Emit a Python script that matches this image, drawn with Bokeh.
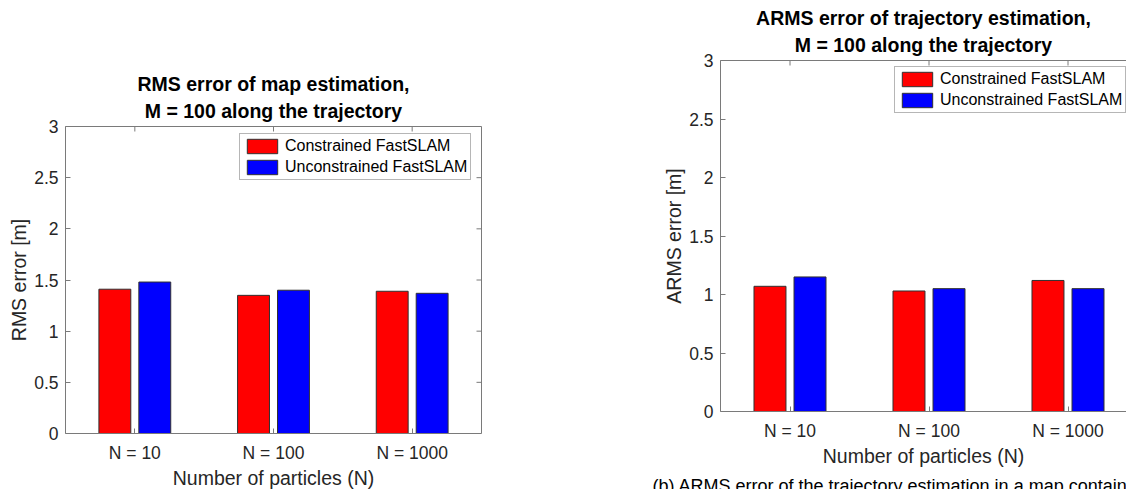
import math

from bokeh.plotting import figure
from bokeh.models import (Range1d, FixedTicker, LinearAxis, Legend, LegendItem,
                          Title, ColumnDataSource)
from bokeh.embed import file_html
from bokeh.resources import INLINE

# ---- data -------------------------------------------------------------
categories = ["N = 10", "N = 100", "N = 1000"]
series_names = ["Constrained FastSLAM", "Unconstrained FastSLAM"]

map_rms_constrained = [1.41, 1.35, 1.39]
map_rms_unconstrained = [1.48, 1.40, 1.37]

traj_arms_constrained = [1.07, 1.03, 1.12]
traj_arms_unconstrained = [1.15, 1.05, 1.05]

y_ticks = [0, 0.5, 1, 1.5, 2, 2.5, 3]
y_tick_labels = ["0", "0.5", "1", "1.5", "2", "2.5", "3"]

caption_text = "(b) ARMS error of the trajectory estimation in a map containing"

# ---- style ------------------------------------------------------------
FONT = "Liberation Sans"
AXIS_GREY = "#7a7a7a"
TEXT_GREY = "#262626"
RED = "#ff0000"
BLUE = "#0000ff"
BAR_W = 0.23
BAR_OFF = 0.144
TICK_SIZE = "17.5px"
LABEL_SIZE = "19.5px"


def style_axis(ax, ticks, labels):
    ax.ticker = FixedTicker(ticks=ticks)
    ax.major_label_overrides = {float(t): l for t, l in zip(ticks, labels)}
    ax.axis_line_color = AXIS_GREY
    ax.axis_line_width = 1
    ax.major_tick_line_color = AXIS_GREY
    ax.major_tick_in = 5
    ax.major_tick_out = 0
    ax.minor_tick_line_color = None
    ax.major_label_text_font = FONT
    ax.major_label_text_color = TEXT_GREY
    ax.major_label_text_font_size = TICK_SIZE
    ax.major_label_standoff = 7


def box_side():
    # plain box edge: axis line only, no ticks and no labels
    ax = LinearAxis(ticker=FixedTicker(ticks=[]))
    ax.axis_line_color = AXIS_GREY
    ax.major_tick_line_color = None
    ax.minor_tick_line_color = None
    ax.major_label_standoff = 0
    return ax


def make_panel(title_lines, ylabel, red_vals, blue_vals, frame_w, frame_h,
               borders, x_end, legend_xy, title_offset, with_right_side):
    left_b, right_b, top_b, bottom_b = borders
    p = figure(frame_width=frame_w, frame_height=frame_h,
               x_range=Range1d(0.5, x_end), y_range=Range1d(0, 3),
               min_border_left=left_b, min_border_right=right_b,
               min_border_top=top_b, min_border_bottom=bottom_b,
               title=None, output_backend="svg", toolbar_location=None)
    p.grid.visible = False
    p.outline_line_color = None
    p.background_fill_color = "white"
    p.border_fill_color = "white"

    pos = list(range(1, len(categories) + 1))
    src = ColumnDataSource(dict(
        x_red=[c - BAR_OFF for c in pos],
        x_blue=[c + BAR_OFF for c in pos],
        red=red_vals, blue=blue_vals))
    r_red = p.vbar(x="x_red", top="red", width=BAR_W, bottom=0, source=src,
                   fill_color=RED, line_color="#303030", line_width=1)
    r_blue = p.vbar(x="x_blue", top="blue", width=BAR_W, bottom=0, source=src,
                    fill_color=BLUE, line_color="#303030", line_width=1)

    xax = p.xaxis[0]
    style_axis(xax, pos, categories)
    xax.major_label_standoff = 9
    xax.axis_label = "Number of particles (N)"
    xax.axis_label_text_font = FONT
    xax.axis_label_text_font_size = LABEL_SIZE
    xax.axis_label_text_font_style = "normal"
    xax.axis_label_text_color = TEXT_GREY
    xax.axis_label_standoff = 1

    yax = p.yaxis[0]
    style_axis(yax, y_ticks, y_tick_labels)
    yax.axis_label = ylabel
    yax.axis_label_text_font = FONT
    yax.axis_label_text_font_size = LABEL_SIZE
    yax.axis_label_text_font_style = "normal"
    yax.axis_label_text_color = TEXT_GREY
    yax.axis_label_standoff = 1

    # top edge of the box with inward ticks
    p.add_layout(box_side(), "above")
    y_top = p.y_range.end
    p.ray(x=pos, y=[y_top] * len(pos), length=5, length_units="screen",
          angle=-math.pi / 2, line_color=AXIS_GREY, line_width=1)
    if with_right_side:
        p.add_layout(box_side(), "right")
        p.ray(x=[x_end] * len(y_ticks), y=y_ticks, length=5, length_units="screen",
              angle=math.pi, line_color=AXIS_GREY, line_width=1)

    # two-line bold title, line nearest the plot added first
    for i, line in enumerate(reversed(title_lines)):
        t = Title(text=line, align="center", text_font=FONT,
                  text_font_size=LABEL_SIZE, text_font_style="bold",
                  text_color="black", offset=title_offset,
                  standoff=9 if i == 0 else -2)
        p.add_layout(t, "above")

    legend = Legend(items=[LegendItem(label=series_names[0], renderers=[r_red]),
                           LegendItem(label=series_names[1], renderers=[r_blue])],
                    location=legend_xy, margin=0, padding=3, spacing=3,
                    glyph_width=38, glyph_height=18, label_height=18,
                    label_standoff=4, label_text_font=FONT,
                    label_text_font_size="16px", label_text_color="black",
                    border_line_color="#6e6e6e", border_line_width=1,
                    background_fill_color="white", background_fill_alpha=1)
    p.add_layout(legend)
    return p


left = make_panel(["RMS error of map estimation,", "M = 100 along the trajectory"],
                  "RMS error [m]", map_rms_constrained, map_rms_unconstrained,
                  frame_w=416, frame_h=307, borders=(65, 159, 126, 56),
                  x_end=3.5, legend_xy=(174, 253), title_offset=0,
                  with_right_side=True)

right = make_panel(["ARMS error of trajectory estimation,", "M = 100 along the trajectory"],
                   "ARMS error [m]", traj_arms_constrained, traj_arms_unconstrained,
                   frame_w=406, frame_h=351, borders=(80, 0, 60, 78),
                   x_end=0.5 + 406 / 139, legend_xy=(174, 298), title_offset=5,
                   with_right_side=False)

# sub-figure caption under the right panel, starting left of its frame
right.add_layout(Title(text=caption_text, align="left", offset=-68,
                       vertical_align="top", standoff=13, text_font=FONT,
                       text_font_size="18px", text_font_style="normal",
                       text_color="black"), "below")

# the two panels sit side by side, each with its own borders; the page is
# one window tall, so the caption's lower half is cut off
page_template = """
{% block postamble %}
<style>
  html, body { margin: 0; padding: 0; height: 489px; overflow: hidden; }
  body { display: flex; flex-direction: row; align-items: flex-start; }
</style>
{% endblock %}
"""

open("out.html", "w").write(file_html([left, right], INLINE, template=page_template))
